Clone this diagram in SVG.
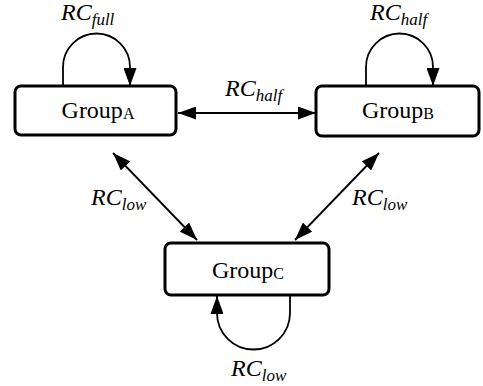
<svg xmlns="http://www.w3.org/2000/svg" width="483" height="386" viewBox="0 0 483 386">
<style>
.box{fill:#fff;stroke:#000;stroke-width:3}
.lbl{font-family:"Liberation Serif",serif;font-size:24px;fill:#000}
.rc{font-family:"Liberation Serif",serif;font-style:italic;font-size:24px;fill:#000}
.sub{font-size:17px}
.gsub{font-size:16px}
.edge{fill:none;stroke:#000;stroke-width:1.8}
</style>
<defs>
<marker id="ah" markerUnits="userSpaceOnUse" markerWidth="18" markerHeight="13" refX="18" refY="6.5" orient="auto-start-reverse" viewBox="0 0 18 13">
<path d="M0,0 L18,6.5 L0,13 z" fill="#000"/>
</marker>
</defs>
<rect width="483" height="386" fill="#fff"/>
<g id="connectors">
<path class="edge" d="M63,86 L63,67 A33.5,33.5 0 0 1 130,67 L130,86" marker-end="url(#ah)"/>
<path class="edge" d="M366,86 L366,67 A33.5,33.5 0 0 1 433,67 L433,86" marker-end="url(#ah)"/>
<path class="edge" d="M290,296 L290,313 A36.5,36.5 0 0 1 217,313 L217,296" marker-end="url(#ah)"/>
<line class="edge" x1="178" y1="113" x2="316" y2="113" marker-start="url(#ah)" marker-end="url(#ah)"/>
<line class="edge" x1="113" y1="153" x2="197" y2="240" marker-start="url(#ah)" marker-end="url(#ah)"/>
<line class="edge" x1="379" y1="153" x2="295" y2="240" marker-start="url(#ah)" marker-end="url(#ah)"/>
<text class="rc" x="61" y="20">RC<tspan class="sub" dy="5">full</tspan></text>
<text class="rc" x="370" y="20">RC<tspan class="sub" dy="5">half</tspan></text>
<text class="rc" x="225" y="96">RC<tspan class="sub" dy="5">half</tspan></text>
<text class="rc" x="91" y="205">RC<tspan class="sub" dy="5">low</tspan></text>
<text class="rc" x="352" y="205">RC<tspan class="sub" dy="5">low</tspan></text>
<text class="rc" x="231" y="376">RC<tspan class="sub" dy="5">low</tspan></text>
</g>
<g id="groupA">
<rect class="box" x="15" y="86" width="161" height="49" rx="6"/>
<text class="lbl" x="98" y="118" text-anchor="middle">Group<tspan class="gsub" dy="1">A</tspan></text>
</g>
<g id="groupB">
<rect class="box" x="316" y="86" width="163" height="50" rx="6"/>
<text class="lbl" x="398" y="118" text-anchor="middle">Group<tspan class="gsub" dy="1">B</tspan></text>
</g>
<g id="groupC">
<rect class="box" x="165" y="243" width="164" height="52" rx="6"/>
<text class="lbl" x="248" y="278" text-anchor="middle">Group<tspan class="gsub" dy="1">C</tspan></text>
</g>
</svg>
